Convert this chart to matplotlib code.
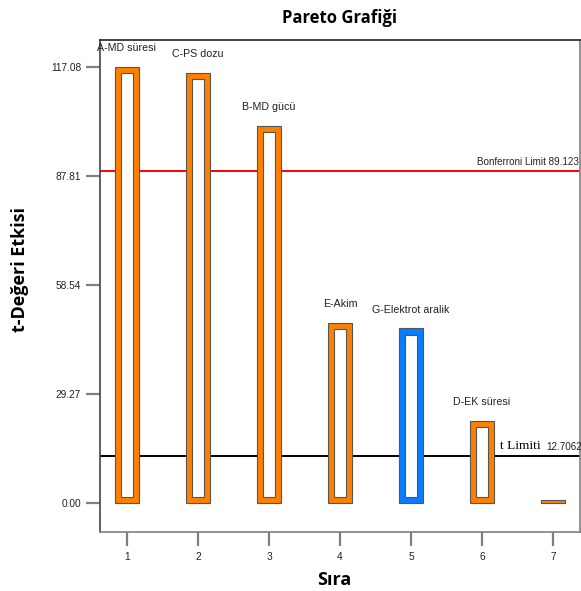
import matplotlib.pyplot as plt

ranks = [1, 2, 3, 4, 5, 6, 7]
t_values = [117.08, 115.5, 101.3, 48.4, 46.9, 22.0, 0.9]
effect_names = ['A-MD süresi', 'C-PS dozu', 'B-MD gücü', 'E-Akim',
                'G-Elektrot aralik', 'D-EK süresi', '']
positive = [True, True, True, True, False, True, True]
y_ticks = [0.00, 29.27, 58.54, 87.81, 117.08]
bonferroni_limit = 89.123
t_limit = 12.7062

ORANGE = '#ff8000'
BLUE = '#0a7cff'
EDGE = '#555555'


def make_figure():
    fig = plt.figure(figsize=(5.81, 5.91), dpi=100)
    ax = fig.add_axes([100 / 581, 1 - 532 / 591, 480 / 581, 492 / 591])

    colors = [ORANGE if p else BLUE for p in positive]
    ax.bar(ranks, t_values, width=0.33, color=colors, edgecolor=EDGE,
           linewidth=0.8, zorder=3)
    # white inner part of each bar, leaving a thick coloured border
    border = 1.7
    for x, v in zip(ranks, t_values):
        if v > 2 * border:
            ax.bar(x, v - 2 * border, bottom=border, width=0.165,
                   color='white', edgecolor=EDGE, linewidth=0.8, zorder=4)

    ax.axhline(bonferroni_limit, color='#ff0000', linewidth=1.4, zorder=2)
    ax.axhline(t_limit, color='black', linewidth=1.4, zorder=2)

    for x, v, name in zip(ranks, t_values, effect_names):
        if name:
            ax.annotate(name, (x, v), xytext=(0, 13.5), textcoords='offset points',
                        ha='center', va='center', fontsize=7.7,
                        family='Liberation Sans', color='#222222')

    ax.text(7.37, bonferroni_limit + 1.2, 'Bonferroni Limit 89.123',
            ha='right', va='bottom', fontsize=7.1, family='Liberation Sans',
            color='#222222')
    ax.text(6.25, t_limit + 2.6, 't Limiti', ha='left', va='center',
            fontsize=9.6, family='Liberation Serif', zorder=5,
            bbox=dict(facecolor='white', edgecolor='none', pad=2))
    ax.text(6.91, t_limit + 2.4, '12.7062', ha='left', va='center',
            fontsize=7.1, family='Liberation Sans', color='#222222')

    ax.set_xlim(0.62, 7.38)
    ax.set_ylim(-7.8, 124.3)
    ax.set_xticks(ranks)
    ax.set_yticks(y_ticks)
    ax.set_yticklabels(['%.2f' % t for t in y_ticks])
    ax.tick_params(axis='both', length=10, width=1.6, color='#808080',
                   labelsize=7.3, labelcolor='#222222')
    ax.tick_params(axis='y', pad=3.6)
    ax.tick_params(axis='x', pad=4.5)
    for lab in ax.get_xticklabels() + ax.get_yticklabels():
        lab.set_family('Liberation Sans')

    ax.spines['top'].set_color('#222222')
    ax.spines['right'].set_color('#808080')
    ax.spines['left'].set_color('#444444')
    ax.spines['bottom'].set_color('#808080')
    for s in ax.spines.values():
        s.set_linewidth(1.2)

    fig.text(340 / 581, 1 - 18 / 591, 'Pareto Grafiği', ha='center',
             va='center', fontsize=12, fontweight='bold', family='Open Sans')
    fig.text(20 / 581, 1 - 270 / 591, 't-Değeri Etkisi', ha='center',
             va='center', rotation=90, fontsize=13, fontweight='bold',
             family='Open Sans')
    fig.text(334 / 581, 1 - 580 / 591, 'Sıra', ha='center', va='center',
             fontsize=13, fontweight='bold', family='Open Sans')

    fig.savefig('out.png', dpi=100)


def main():
    make_figure()


if __name__ == "__main__":
    main()
